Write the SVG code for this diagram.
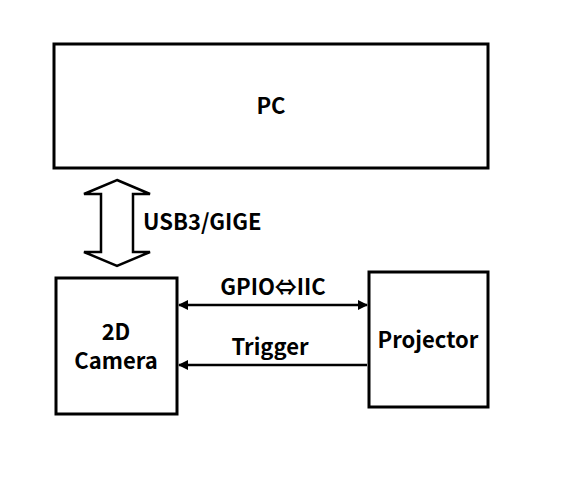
<svg xmlns="http://www.w3.org/2000/svg" width="562" height="490" viewBox="0 0 562 490">
<style>
.box{fill:#fff;stroke:#000;stroke-width:3}
.t{font-family:"Noto Sans CJK SC","Liberation Sans",sans-serif;font-weight:bold;font-size:22px;fill:#000}
.c{stroke:#000;stroke-width:2.5;fill:none}
</style>
<defs>
<marker id="ah" viewBox="0 0 10 10" refX="9" refY="5" markerWidth="4" markerHeight="4" orient="auto-start-reverse">
<path d="M0,0 L10,5 L0,10 z" fill="#000"/>
</marker>
</defs>
<rect width="562" height="490" fill="#fff"/>
<g id="pc">
<rect class="box" x="54" y="44" width="434" height="124"/>
<text class="t" x="271" y="114" text-anchor="middle">PC</text>
</g>
<g id="camera">
<rect class="box" x="56" y="278" width="121" height="136"/>
<text class="t" x="116" y="340" text-anchor="middle">2D</text>
<text class="t" x="116" y="369" text-anchor="middle">Camera</text>
</g>
<g id="projector">
<rect class="box" x="369" y="272" width="119" height="135"/>
<text class="t" x="428" y="348" text-anchor="middle">Projector</text>
</g>
<g id="connectors">
<path d="M117,180 L150,194 L133,194 L133,252 L150,252 L117,266 L84,252 L101,252 L101,194 L84,194 Z" fill="#fff" stroke="#000" stroke-width="2.5" stroke-linejoin="miter"/>
<text class="t" x="143" y="230">USB3/GIGE</text>
<line class="c" x1="179" y1="305" x2="367" y2="305" marker-start="url(#ah)" marker-end="url(#ah)"/>
<text class="t" x="273" y="295" text-anchor="middle">GPIO⇔IIC</text>
<line class="c" x1="367" y1="365" x2="179" y2="365" marker-end="url(#ah)"/>
<text class="t" x="270" y="355" text-anchor="middle">Trigger</text>
</g>
</svg>
